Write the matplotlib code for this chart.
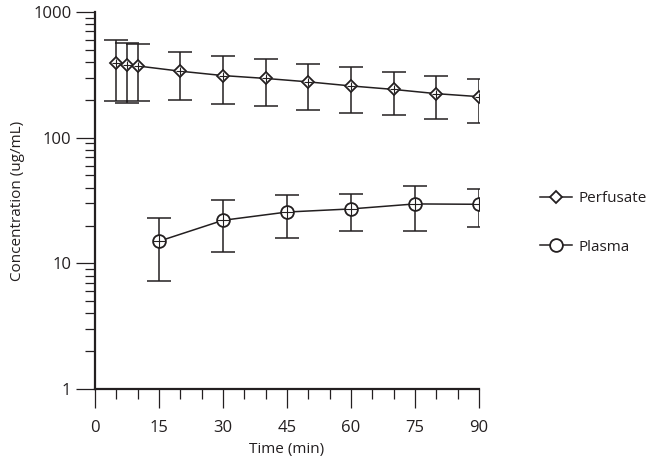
import matplotlib
matplotlib.use("Agg")
import matplotlib.pyplot as plt
from matplotlib.ticker import MultipleLocator, LogLocator, NullFormatter, FixedLocator
import numpy as np

plt.rcParams['font.family'] = ['Open Sans', 'DejaVu Sans']

# Data
perf_time = [5, 7.5, 10, 20, 30, 40, 50, 60, 70, 80, 90]
perf_mean = [390, 380, 372, 338, 312, 296, 278, 258, 242, 224, 212]
perf_upper = [600, 565, 555, 480, 445, 420, 388, 365, 335, 308, 292]
perf_lower = [195, 190, 195, 200, 184, 180, 165, 156, 152, 140, 132]

plasma_time = [15, 30, 45, 60, 75, 90]
plasma_mean = [15.0, 22.0, 25.6, 27.1, 29.7, 29.5]
plasma_upper = [22.9, 32.1, 35.0, 35.8, 41.5, 39.1]
plasma_lower = [7.2, 12.2, 15.8, 18.2, 18.2, 19.4]

x_ticks = [0, 15, 30, 45, 60, 75, 90]
y_ticks = [1, 10, 100, 1000]
y_tick_labels = ['1', '10', '100', '1000']

color = '#231f20'

fig = plt.figure(figsize=(6.47, 4.57), dpi=100)
ax = fig.add_axes([95/647, 1-389/457, (479-95)/647, (389-12)/457])

def draw(t, m, lo, hi, marker, ms, label):
    m = np.array(m); lo = np.array(lo); hi = np.array(hi)
    yerr = np.vstack([m - lo, hi - m])
    ax.errorbar(t, m, yerr=yerr, fmt='none', ecolor=color, elinewidth=1.1,
                capsize=8.3, capthick=1.1, zorder=2)
    ax.plot(t, m, color=color, lw=1.1, marker=marker, ms=ms, mfc='white',
            mec=color, mew=1.3, label=label, zorder=3)
    ax.plot(t, m, color=color, lw=0, marker='+', ms=ms*0.9, mec=color, mew=0.8, zorder=4)

draw(perf_time, perf_mean, perf_lower, perf_upper, 'D', 6.2, 'Perfusate')
draw(plasma_time, plasma_mean, plasma_lower, plasma_upper, 'o', 9.2, 'Plasma')

ax.set_yscale('log')
ax.set_ylim(1, 1000)
ax.set_xlim(0, 90)
ax.yaxis.set_major_locator(FixedLocator(y_ticks))
ax.set_yticklabels(y_tick_labels)
ax.yaxis.set_minor_locator(LogLocator(base=10, subs=np.arange(2, 10)))
ax.yaxis.set_minor_formatter(NullFormatter())
ax.set_xticks(x_ticks)
ax.xaxis.set_minor_locator(MultipleLocator(5))

for s in ['top', 'right']:
    ax.spines[s].set_visible(False)
for s in ['left', 'bottom']:
    ax.spines[s].set_linewidth(1.6)
    ax.spines[s].set_color(color)

ax.tick_params(axis='x', which='major', pad=8)
ax.tick_params(axis='y', which='major', pad=3)
ax.tick_params(axis='both', which='major', length=14, width=0.9, color=color,
               labelsize=12, labelcolor=color)
ax.tick_params(axis='both', which='minor', length=7, width=0.9, color=color)

ax.set_xlabel('Time (min)', fontsize=11, color=color, labelpad=5)
ax.set_ylabel('Concentration (ug/mL)', fontsize=11, color=color, labelpad=6)

leg = fig.legend(loc='center left', bbox_to_anchor=(526/647, 1-223/457), frameon=False,
                 fontsize=11, handlelength=2.1, labelspacing=2.2, handletextpad=0.45)
for t in leg.get_texts():
    t.set_color(color)

fig.savefig('out.png', dpi=100)
